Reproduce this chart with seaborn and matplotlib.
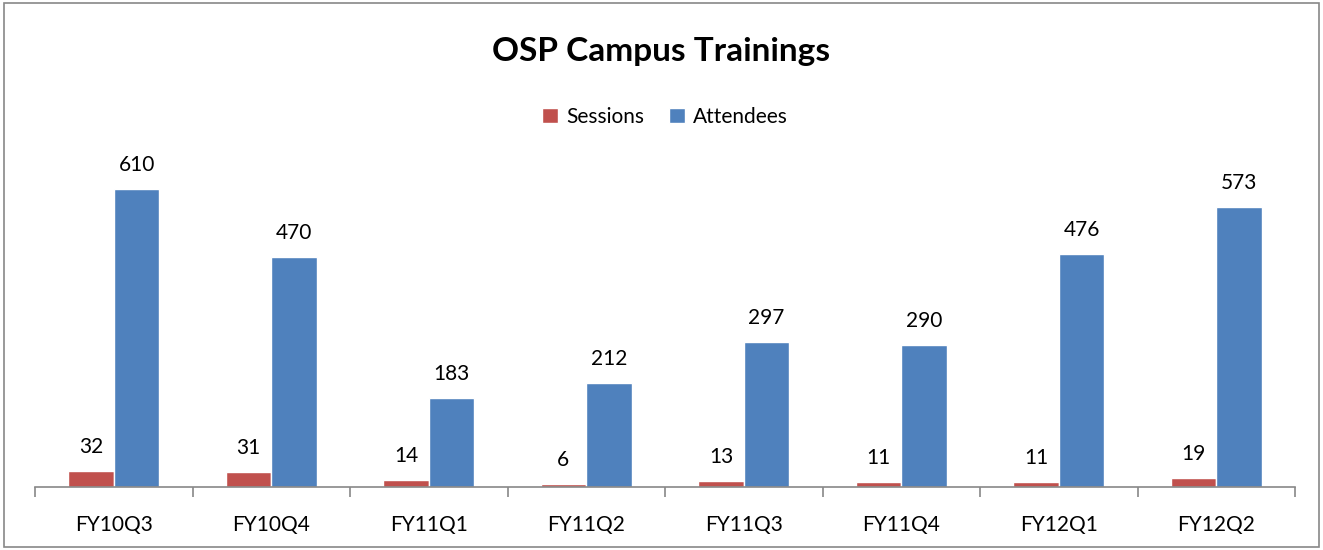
import pandas as pd
import matplotlib
matplotlib.use('Agg')
import matplotlib.pyplot as plt
import seaborn as sns
from matplotlib.patches import Rectangle

# Chart values
quarters = ['FY10Q3', 'FY10Q4', 'FY11Q1', 'FY11Q2', 'FY11Q3', 'FY11Q4', 'FY12Q1', 'FY12Q2']
sessions = [32, 31, 14, 6, 13, 11, 11, 19]
attendees = [610, 470, 183, 212, 297, 290, 476, 573]
series = ['Sessions', 'Attendees']
colors = ['#C0504D', '#4F81BD']

df = pd.DataFrame({
    'Quarter': quarters * 2,
    'Series': ['Sessions'] * len(quarters) + ['Attendees'] * len(quarters),
    'Count': sessions + attendees,
})

sns.set_style('white')
plt.rcParams['font.family'] = ['Lato', 'DejaVu Sans']
plt.rcParams['text.color'] = 'black'

fig = plt.figure(figsize=(13.23, 5.5), dpi=100)
ax = fig.add_axes([35 / 1323, 63 / 550, 1260 / 1323, 347 / 550])

sns.barplot(data=df, x='Quarter', y='Count', hue='Series', hue_order=series,
            palette=colors, width=0.58, gap=0, saturation=1, ax=ax)

for c in ax.containers:
    ax.bar_label(c, padding=10, fontsize=15, color='black')

ax.set_xlim(-0.5, len(quarters) - 0.5)
ax.set_ylim(0, 710)
ax.set_xlabel('')
ax.set_ylabel('')
ax.set_yticks([])
for s in ['top', 'right', 'left']:
    ax.spines[s].set_visible(False)
ax.spines['bottom'].set_color('#888888')
ax.spines['bottom'].set_linewidth(1.2)

# labels at centres, tick marks at category boundaries
ax.set_xticks(range(len(quarters)))
ax.set_xticklabels(quarters, fontsize=15, color='black')
ax.tick_params(axis='x', which='major', length=0, pad=20)
ax.set_xticks([i - 0.5 for i in range(len(quarters) + 1)], minor=True)
ax.tick_params(axis='x', which='minor', bottom=True, length=7, width=1.2,
               color='#888888', direction='out')

ax.legend(loc='upper center', bbox_to_anchor=(0.5, 1.15), ncol=2, frameon=False,
          fontsize=15, handlelength=0.75, handleheight=0.75, columnspacing=1.2,
          handletextpad=0.4)

fig.suptitle('OSP Campus Trainings', y=1 - 52 / 550, va='center', fontsize=24,
             fontweight='bold', color='black')

fig.patches.append(Rectangle((4 / 1323, 3 / 550), 1315 / 1323, 544 / 550, transform=fig.transFigure,
                             fill=False, edgecolor='#888888', linewidth=1.2))

fig.savefig('out.png', dpi=100)
